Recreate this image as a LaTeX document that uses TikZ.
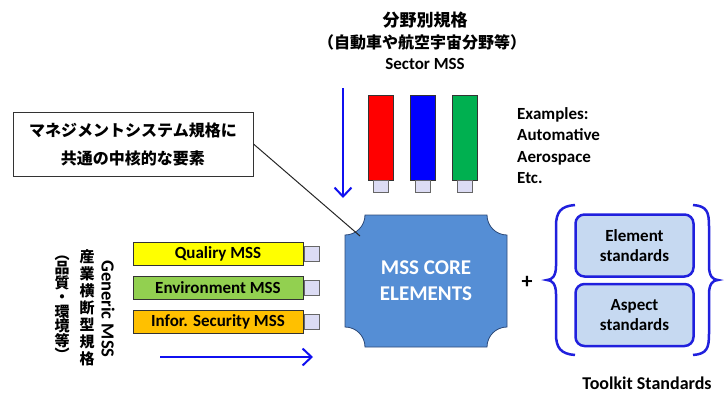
\documentclass[tikz,border=0pt]{standalone}
\usepackage{fontspec}
\setmainfont{Carlito}
\newfontfamily\jpfont{Noto Sans CJK JP}
\usepackage{tikz}
\usetikzlibrary{arrows.meta, positioning}
\usepackage{xcolor}
\definecolor{coreblue}{HTML}{558ED5}
\definecolor{coreedge}{HTML}{2E4A78}
\definecolor{toolblue}{HTML}{2020DD}
\definecolor{toolfill}{HTML}{C6D9F1}
\definecolor{arrowblue}{HTML}{1010F0}
\definecolor{plugfill}{HTML}{DCDCF4}
\definecolor{barred}{HTML}{FF0000}
\definecolor{barblue}{HTML}{0000FF}
\definecolor{bargreen}{HTML}{00B050}
\definecolor{baryellow}{HTML}{FFFF00}
\definecolor{barlime}{HTML}{92D050}
\definecolor{barorange}{HTML}{FFC000}
\tikzstyle{jplabel} = [font=\jpfont\bfseries\fontsize{16}{17}\selectfont, inner sep=0pt]
\tikzstyle{jpvert} = [font=\jpfont\bfseries\fontsize{15}{17}\selectfont, inner sep=0pt, align=center]
\tikzstyle{enlabel} = [font=\bfseries\fontsize{17}{21.5}\selectfont, inner sep=0pt]
\tikzstyle{sectorbar} = [rectangle, draw=black!80, line width=0.8pt, minimum width=25pt, minimum height=85pt, inner sep=0pt]
\tikzstyle{plug} = [rectangle, draw=black!60, line width=0.8pt, fill=plugfill, minimum width=15pt, minimum height=12pt, inner sep=0pt]
\tikzstyle{genericbar} = [rectangle, draw=black!80, line width=0.8pt, minimum width=170pt, minimum height=23pt, inner sep=0pt, font=\bfseries\fontsize{17}{20}\selectfont]
\tikzstyle{toolbox} = [rectangle, rounded corners=9pt, draw=toolblue, line width=2.5pt, fill=toolfill, minimum width=118pt, minimum height=62pt, align=center, font=\bfseries\fontsize{17}{20}\selectfont]
\tikzstyle{bluearrow} = [line width=2pt, draw=arrowblue, -{Straight Barb[length=9pt, width=17pt]}]
\tikzstyle{bracket} = [line width=2.5pt, draw=toolblue]

\begin{document}
\begin{tikzpicture}[x=1pt, y=1pt]
  \useasboundingbox (0,0) rectangle (724,-394);

  \node[jplabel, font=\jpfont\bfseries\fontsize{17}{17}\selectfont] (sectorjp) at (425,-20) {分野別規格};
  \node[jplabel] (sectorex) at (422,-42) {（自動車や航空宇宙分野等）};
  \node[enlabel] (sectoren) at (425,-64) {Sector MSS};
  \coordinate (sectorstart) at (343,-88);
  \coordinate (sectorend) at (343,-198);
  \draw[bluearrow] (sectorstart) -- (sectorend);

  \node[sectorbar, fill=barred] (redbar) at (380.5,-137.5) {};
  \node[sectorbar, fill=barblue] (bluebar) at (422.5,-137.5) {};
  \node[sectorbar, fill=bargreen] (greenbar) at (464.5,-137.5) {};
  \node[plug, below=0pt of redbar] (redplug) {};
  \node[plug, below=0pt of bluebar] (blueplug) {};
  \node[plug, below=0pt of greenbar] (greenplug) {};
  \node[enlabel, align=left, anchor=north west] (examples) at (517,-107) {Examples:\\Automative\\Aerospace\\Etc.};

  \node[rectangle, draw=black!80, line width=1pt, minimum width=240pt, minimum height=64pt, align=center,
        font=\jpfont\bfseries\fontsize{16}{28}\selectfont] (callout) at (133,-144) {マネジメントシステム規格に\\共通の中核的な要素};

  \filldraw[fill=coreblue, draw=coreedge, line width=0.8pt]
    (365,-215) -- (487,-215) arc[start angle=180, end angle=270, radius=20]
    -- (507,-327) arc[start angle=90, end angle=180, radius=20]
    -- (365,-347) arc[start angle=0, end angle=90, radius=20]
    -- (345,-235) arc[start angle=270, end angle=360, radius=20] -- cycle;
  \node[enlabel, text=white, align=center, font=\bfseries\fontsize{21}{26}\selectfont] (core) at (426,-281) {MSS CORE\\ELEMENTS};
  \coordinate (calloutend) at (360,-236);
  \draw[black!85, line width=1pt] (callout.east) -- (calloutend);

  \node[enlabel, font=\bfseries\fontsize{22}{22}\selectfont] (plus) at (527,-282) {+};
  \node[toolbox] (element) at (634.5,-245.5) {Element\\standards};
  \node[toolbox, below=5pt of element] (aspect) {Aspect\\standards};
  \draw[bracket] (575,-205) .. controls (561,-206) and (556,-212) .. (556,-226) -- (556,-266)
    .. controls (556,-276) and (552,-280) .. (547,-280) .. controls (552,-280) and (556,-284) .. (556,-294)
    -- (556,-334) .. controls (556,-348) and (561,-354) .. (575,-355);
  \draw[bracket] (693,-205) .. controls (707,-206) and (709,-212) .. (709,-226) -- (709,-266)
    .. controls (709,-276) and (713,-280) .. (718,-280) .. controls (713,-280) and (709,-284) .. (709,-294)
    -- (709,-334) .. controls (709,-348) and (707,-354) .. (693,-355);
  \node[enlabel, font=\bfseries\fontsize{18}{20}\selectfont] (toolkit) at (647,-383) {Toolkit Standards};

  \node[genericbar, fill=baryellow] (quality) at (218,-254) {Qualiry MSS};
  \node[genericbar, fill=barlime, below=10pt of quality] (environment) {Environment MSS};
  \node[genericbar, fill=barorange, below=10pt of environment] (security) {Infor. Security MSS};
  \node[plug, minimum height=15pt, right=1pt of quality] (qualityplug) {};
  \node[plug, minimum height=15pt, right=1pt of environment] (environmentplug) {};
  \node[plug, minimum height=15pt, right=1pt of security] (securityplug) {};
  \coordinate (genericstart) at (160,-357);
  \coordinate (genericend) at (313,-357);
  \draw[bluearrow] (genericstart) -- (genericend);

  \node[enlabel, rotate=-90, font=\bfseries\fontsize{18.5}{20}\selectfont] (genericen) at (108,-309) {Generic MSS};
  \node[jpvert] (genericjp) at (87,-308) {産\\業\\横\\断\\型\\規\\格};
  \node[jpvert, font=\jpfont\bfseries\fontsize{15}{14.5}\selectfont] (genericex) at (62,-308) {︵\\品\\質\\・\\環\\境\\等\\︶};
\end{tikzpicture}
\end{document}
